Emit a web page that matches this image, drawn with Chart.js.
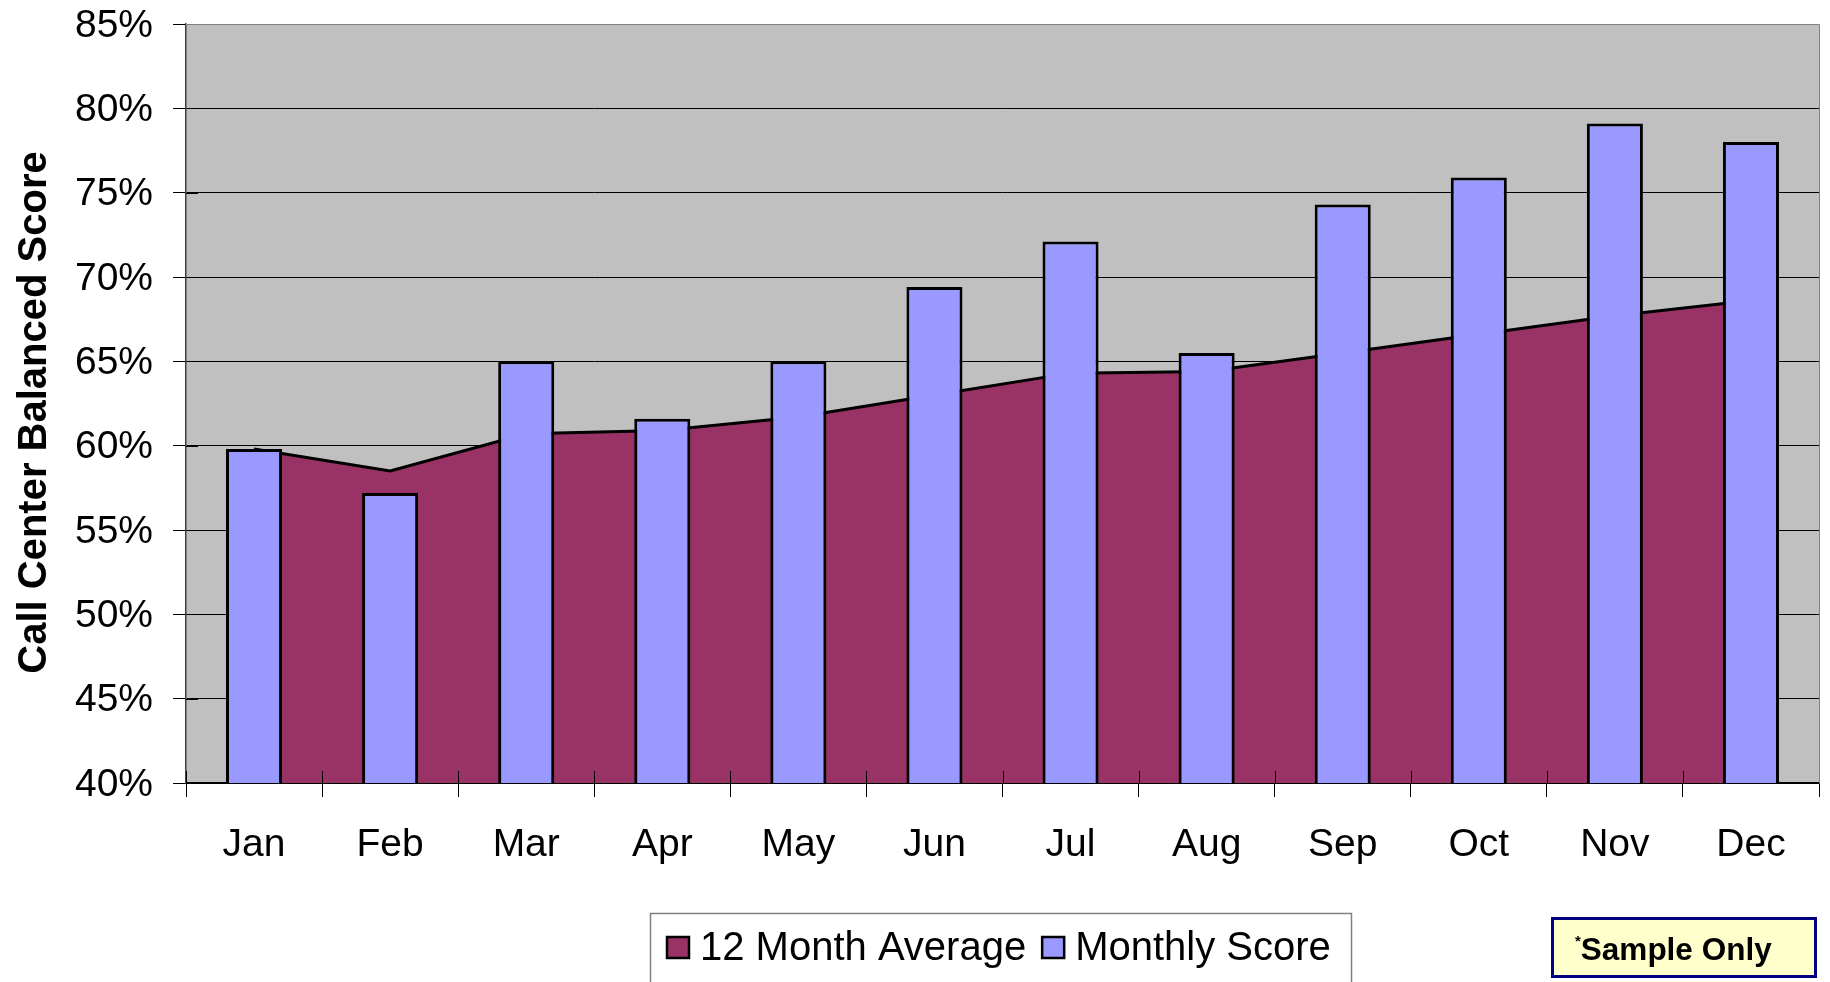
<!DOCTYPE html>
<html>
<head>
<meta charset="utf-8">
<script src="https://cdn.jsdelivr.net/npm/chart.js@4.4.1/dist/chart.umd.min.js"></script>
<style>
  html, body { margin: 0; padding: 0; background: #fff; }
  #wrap { position: relative; width: 1830px; height: 982px; overflow: hidden; }
  #sample {
    position: absolute; left: 1551px; top: 917px; width: 260px; height: 55px;
    border: 3px solid #000080; background: #FFFFCC;
    font: bold 31.5px "Liberation Sans", Arial, sans-serif; color: #000;
    line-height: 55px; box-sizing: content-box;
  }
  #sample span.inner { position: absolute; left: 21px; top: 2px; }
  #sample sup { font-size: 15px; vertical-align: 0; position: relative; top: -14px; }
</style>
</head>
<body>
<div id="wrap">
  <canvas id="chart" width="1830" height="982"></canvas>
  <div id="sample"><span class="inner"><sup>*</sup>Sample Only</span></div>
</div>
<script>
// categories
const months = ['Jan', 'Feb', 'Mar', 'Apr', 'May', 'Jun', 'Jul', 'Aug', 'Sep', 'Oct', 'Nov', 'Dec'];
// series values (percent)
const avgScore = [59.8, 58.5, 60.7, 60.9, 61.7, 63.0, 64.3, 64.4, 65.5, 66.6, 67.7, 68.6];
const monthlyScore = [59.8, 57.2, 65.0, 61.6, 65.0, 69.4, 72.1, 65.5, 74.3, 75.9, 79.1, 78.0];
// y axis range and tick step
const yMin = 40;
const yMax = 85;
const yStep = 5;

const seriesNames = ['12 Month Average', 'Monthly Score'];
const yTitle = 'Call Center Balanced Score';
const FONT = '"Liberation Sans", Arial, sans-serif';

// gray plot background + gray frame on top/right
const plotBackground = {
  id: 'plotBackground',
  beforeDraw(chart) {
    const {ctx, chartArea: a} = chart;
    ctx.save();
    ctx.fillStyle = '#C0C0C0';
    ctx.fillRect(a.left, a.top, a.right - a.left, a.bottom - a.top);
    ctx.restore();
  },
  afterDraw(chart) {
    const {ctx, chartArea: a} = chart;
    ctx.save();
    ctx.strokeStyle = '#808080';
    ctx.lineWidth = 1;
    ctx.beginPath();
    ctx.moveTo(a.left, Math.round(a.top) + 0.5);
    ctx.lineTo(Math.round(a.right) + 0.5, Math.round(a.top) + 0.5);
    ctx.lineTo(Math.round(a.right) + 0.5, a.bottom);
    ctx.stroke();
    ctx.restore();
  }
};

// Excel style "cross" tick marks: inner part of each tick, over the series
const crossTicks = {
  id: 'crossTicks',
  afterDatasetsDraw(chart) {
    const {ctx, chartArea: a, scales} = chart;
    ctx.save();
    ctx.strokeStyle = '#000';
    ctx.lineWidth = 1;
    ctx.beginPath();
    scales.y.ticks.forEach(t => {
      const py = Math.round(scales.y.getPixelForValue(t.value)) + 0.5;
      ctx.moveTo(a.left, py);
      ctx.lineTo(a.left + 12, py);
    });
    const step = (a.right - a.left) / months.length;
    for (let i = 0; i <= months.length; i++) {
      const px = Math.round(a.left + i * step) + 0.5;
      ctx.moveTo(px, a.bottom - 12);
      ctx.lineTo(px, a.bottom);
    }
    ctx.stroke();
    ctx.restore();
  }
};

// rotated y axis title, sitting a little below the plot centre like the original
const axisTitle = {
  id: 'axisTitle',
  afterDraw(chart) {
    const {ctx, chartArea: a} = chart;
    ctx.save();
    ctx.translate(35, (a.top + a.bottom) / 2 + 9);
    ctx.rotate(-Math.PI / 2);
    ctx.font = 'bold 40px ' + FONT;
    ctx.fillStyle = '#000';
    ctx.textAlign = 'center';
    ctx.textBaseline = 'middle';
    ctx.fillText(yTitle, 0, 0);
    ctx.restore();
  }
};

// boxed legend below the plot
const boxedLegend = {
  id: 'boxedLegend',
  afterDraw(chart) {
    const {ctx} = chart;
    const box = {x: 650, y: 913, w: 701, h: 90};
    ctx.save();
    ctx.fillStyle = '#fff';
    ctx.fillRect(box.x, box.y, box.w, box.h);
    ctx.strokeStyle = '#808080';
    ctx.lineWidth = 1.5;
    ctx.strokeRect(box.x + 0.5, box.y + 0.5, box.w, box.h);
    ctx.font = '40px ' + FONT;
    ctx.textBaseline = 'middle';
    let x = box.x + 16;
    const cy = 948;
    chart.data.datasets.forEach((ds, i) => {
      ctx.fillStyle = ds.backgroundColor;
      ctx.fillRect(x, cy - 12, 24, 23);
      ctx.strokeStyle = '#000';
      ctx.lineWidth = 2.5;
      ctx.strokeRect(x + 1, cy - 11, 22, 21);
      x += 34;
      ctx.fillStyle = '#000';
      ctx.fillText(seriesNames[i], x, cy + 1);
      x += ctx.measureText(seriesNames[i]).width + 15;
    });
    ctx.restore();
  }
};

new Chart(document.getElementById('chart'), {
  type: 'bar',
  data: {
    labels: months,
    datasets: [
      {
        type: 'line',
        label: seriesNames[0],
        data: avgScore,
        backgroundColor: '#993366',
        borderColor: '#000',
        borderWidth: 3,
        fill: 'start',
        tension: 0,
        pointRadius: 0,
        order: 2
      },
      {
        type: 'bar',
        label: seriesNames[1],
        data: monthlyScore,
        backgroundColor: '#9999FF',
        borderColor: '#000',
        borderWidth: 3,
        borderSkipped: false,
        categoryPercentage: 1,
        barPercentage: 0.412,
        order: 1
      }
    ]
  },
  options: {
    responsive: false,
    devicePixelRatio: 1,
    animation: false,
    layout: { padding: { left: 0, top: 24, right: 11, bottom: 0 } },
    plugins: {
      legend: { display: false },
      tooltip: { enabled: false }
    },
    scales: {
      x: {
        offset: true,
        afterFit(scale) { scale.height = 199; },
        grid: {
          offset: true,
          drawOnChartArea: false,
          drawTicks: true,
          tickLength: 14,
          color: '#000',
          lineWidth: 1
        },
        border: { display: true, color: '#000', width: 1.5 },
        ticks: {
          autoSkip: false,
          maxRotation: 0,
          padding: 25,
          color: '#000',
          font: { family: FONT, size: 39 }
        }
      },
      y: {
        min: yMin,
        max: yMax,
        afterFit(scale) {
          scale.width = 186;
          scale.paddingTop = 0;
          scale.paddingBottom = 0;
        },
        grid: {
          color: ctx => (ctx.tick && ctx.tick.value === yMax ? '#808080' : '#000'),
          lineWidth: 1,
          drawTicks: true,
          tickLength: 13,
          tickColor: '#000'
        },
        border: { display: true, color: '#404040', width: 1.5 },
        ticks: {
          stepSize: yStep,
          padding: 20,
          labelOffset: 2,
          color: '#000',
          font: { family: FONT, size: 39, lineHeight: 1 },
          callback: v => v + '%'
        },
        title: { display: false }
      }
    }
  },
  plugins: [plotBackground, crossTicks, axisTitle, boxedLegend]
});
</script>
</body>
</html>
